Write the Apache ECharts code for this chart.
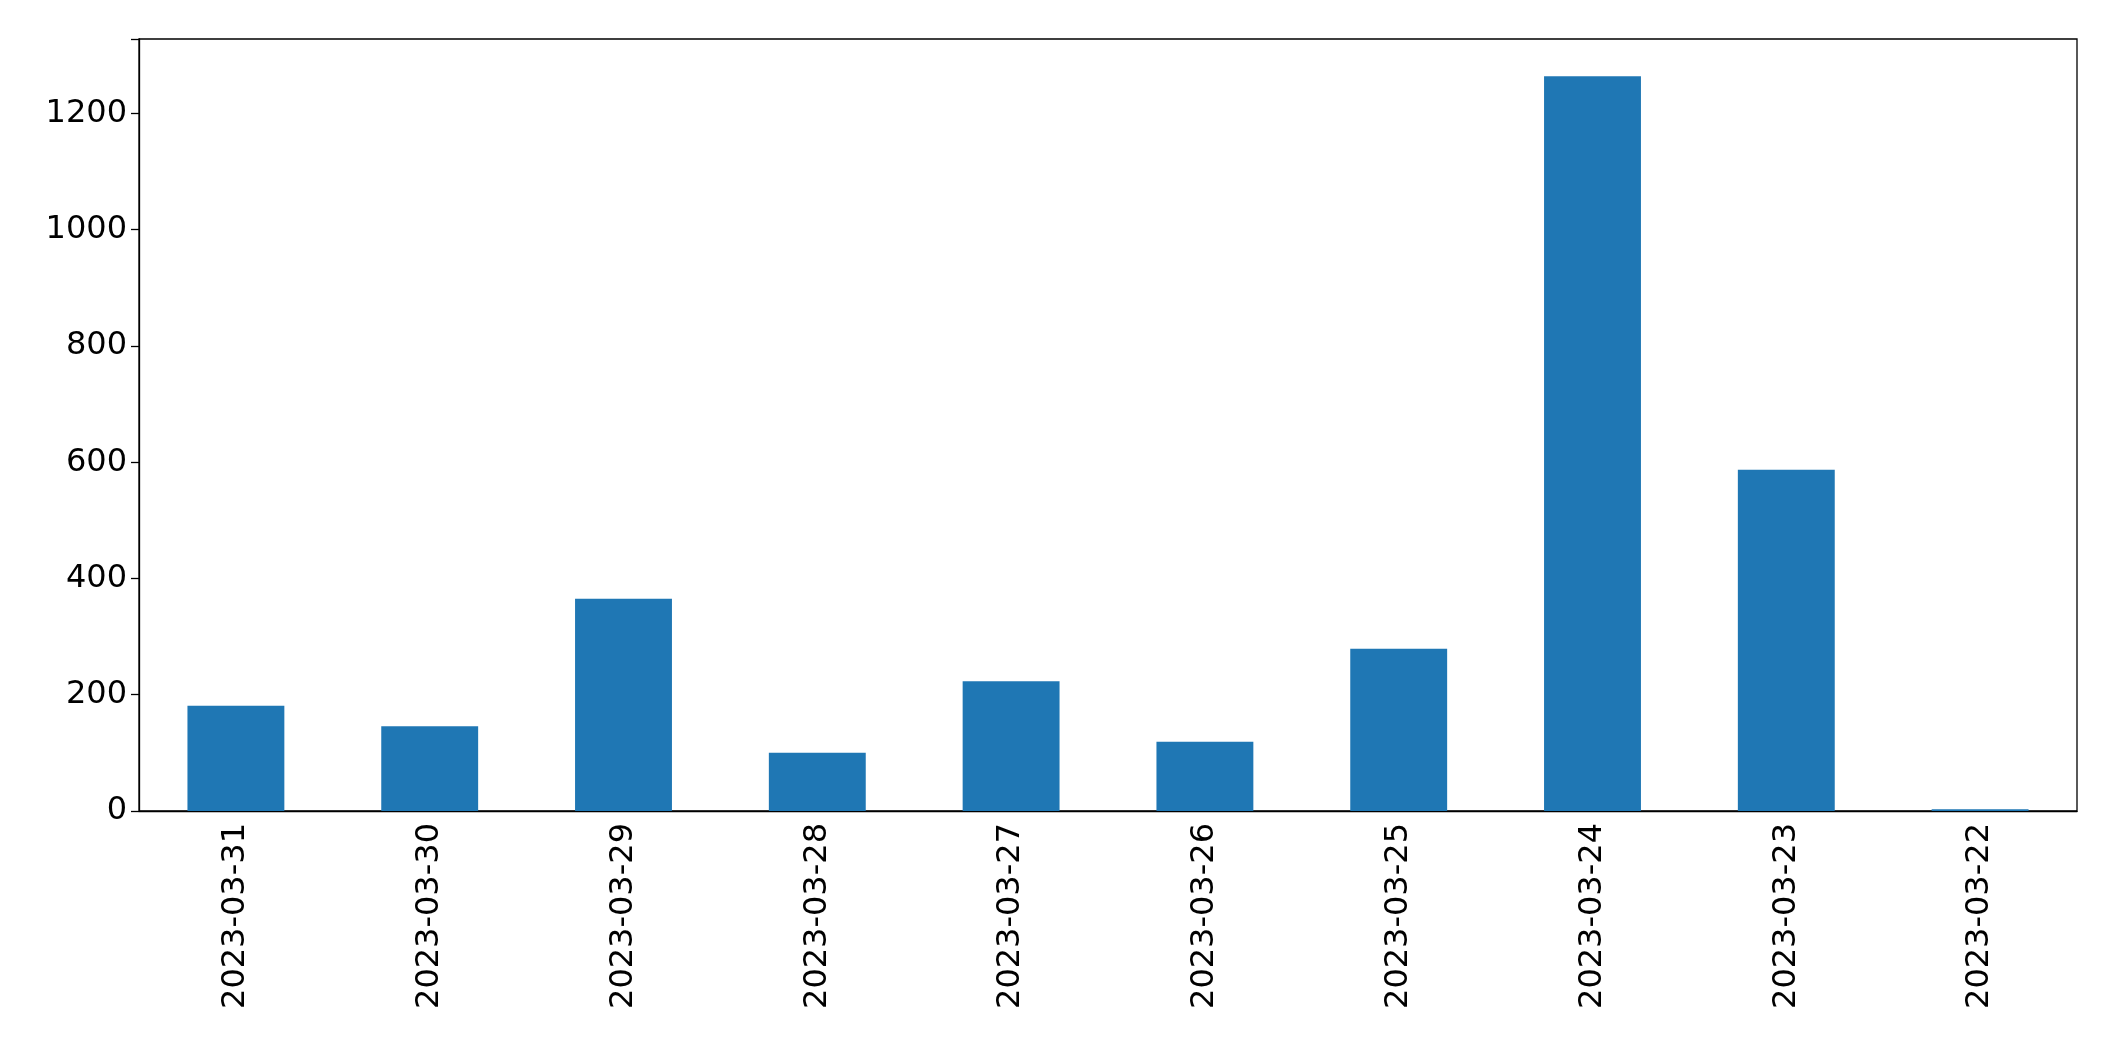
<!DOCTYPE html>
<html><head><meta charset="utf-8">
<script src="https://cdn.jsdelivr.net/npm/echarts@6/dist/echarts.min.js"></script>
<style>html,body{margin:0;padding:0;background:#fff}#c{width:2115px;height:1061px}</style>
</head><body><div id="c"></div>
<script>
const categories = ['2023-03-31','2023-03-30','2023-03-29','2023-03-28','2023-03-27','2023-03-26','2023-03-25','2023-03-24','2023-03-23','2023-03-22'];
const values = [181, 146, 365, 100, 223, 119, 279, 1264, 587, 3];
const chart = echarts.init(document.getElementById('c'));
chart.setOption({
  animation:false,
  grid:{left:139,right:38,top:39,bottom:250,containLabel:false,show:true,borderColor:'#000',borderWidth:1.3},
  xAxis:{type:'category',data:categories,
    axisLine:{lineStyle:{color:'#000',width:1.3}},
    axisTick:{alignWithLabel:true,length:8,lineStyle:{color:'#000',width:1.3}},
    axisLabel:{rotate:90,fontSize:32,color:'#000',fontFamily:'DejaVu Sans',margin:12}},
  yAxis:{type:'value',min:0,max:1328,interval:200,
    splitLine:{show:false},
    axisLine:{show:true,lineStyle:{color:'#000',width:1.3}},
    axisTick:{show:true,length:8,lineStyle:{color:'#000',width:1.3}},
    axisLabel:{fontSize:32,color:'#000',fontFamily:'DejaVu Sans',margin:12,
      formatter:v=>v>1300?'':v}},
  series:[{type:'bar',data:values,barWidth:'50%',itemStyle:{color:'#1f77b4'}}]
});
</script></body></html>
